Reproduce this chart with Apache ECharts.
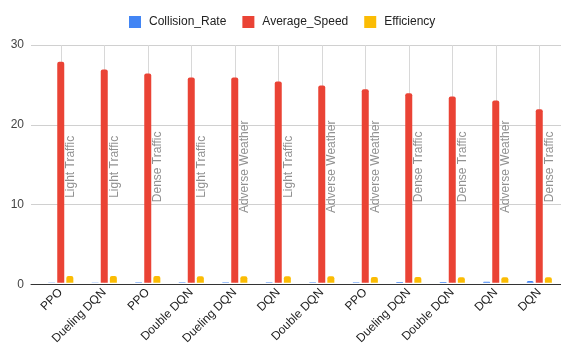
<!DOCTYPE html>
<html>
<head>
<meta charset="utf-8">
<script src="https://cdn.jsdelivr.net/npm/echarts@6/dist/echarts.min.js"></script>
<style>
  html, body { margin: 0; padding: 0; background: #fff; }
  #container { width: 561px; height: 347px; }
</style>
</head>
<body>
<div id="container"></div>
<script>
// data
var algorithms = ['PPO', 'Dueling DQN', 'PPO', 'Double DQN', 'Dueling DQN', 'DQN',
                  'Double DQN', 'PPO', 'Dueling DQN', 'Double DQN', 'DQN', 'DQN'];
var conditions = ['Light Traffic', 'Light Traffic', 'Dense Traffic', 'Light Traffic', 'Adverse Weather', 'Light Traffic',
                  'Adverse Weather', 'Adverse Weather', 'Dense Traffic', 'Dense Traffic', 'Adverse Weather', 'Dense Traffic'];
var collisionRate = [0.03, 0.03, 0.04, 0.04, 0.05, 0.05, 0.06, 0.06, 0.07, 0.08, 0.1, 0.22];
var averageSpeed = [27.9, 26.9, 26.4, 25.9, 25.9, 25.4, 24.9, 24.4, 23.9, 23.5, 23.0, 21.9];
var efficiency = [0.84, 0.83, 0.83, 0.82, 0.82, 0.81, 0.8, 0.7, 0.7, 0.68, 0.68, 0.68];
var yTicks = [0, 10, 20, 30];
var labelAnchor = 15; // value where the condition text is centred

var dom = document.getElementById('container');
var myChart = echarts.init(dom);
var font = '"Liberation Sans", Arial, sans-serif';

var option = {
    animation: false,
    textStyle: { fontFamily: font },
    legend: {
        top: 11,
        left: 124,
        itemWidth: 12,
        itemHeight: 12,
        itemGap: 16,
        icon: 'rect',
        textStyle: { color: '#222', fontSize: 12, fontFamily: font, padding: [0, 0, 0, 3] },
        data: ['Collision_Rate', 'Average_Speed', 'Efficiency']
    },
    grid: [
        { left: 31, right: 0, top: 45, height: 239.5 },
        { left: 39, right: 0, top: 45, height: 239.5 }
    ],
    xAxis: [
        {
            // background axis: only the baseline
            gridIndex: 0, type: 'value', min: 0, max: 1,
            axisLine: { show: true, onZero: false, lineStyle: { color: '#333', width: 1 } },
            axisTick: { show: false }, axisLabel: { show: false }, splitLine: { show: false }
        },
        {
            gridIndex: 1, type: 'category', data: algorithms,
            axisLine: { show: false },
            axisTick: { show: false },
            axisLabel: { rotate: 45, color: '#222', fontSize: 12, margin: 8, interval: 0, fontFamily: font },
            splitLine: { show: false }
        }
    ],
    yAxis: [
        {
            gridIndex: 0, type: 'value', min: yTicks[0], max: yTicks[yTicks.length - 1], interval: 10,
            axisLine: { show: false }, axisTick: { show: false },
            axisLabel: { color: '#444', fontSize: 12, margin: 7, fontFamily: font },
            splitLine: { lineStyle: { color: '#d0d0d0' } }
        },
        {
            gridIndex: 1, type: 'value', min: yTicks[0], max: yTicks[yTicks.length - 1], interval: 10,
            show: false, splitLine: { show: false }
        }
    ],
    series: [
        {
            name: 'Collision_Rate', type: 'bar', xAxisIndex: 1, yAxisIndex: 1, z: 3,
            data: collisionRate, barWidth: 7, barGap: '30%',
            itemStyle: { color: '#4285F4', borderRadius: [2, 2, 0, 0] }
        },
        {
            name: 'Average_Speed', type: 'bar', xAxisIndex: 1, yAxisIndex: 1, z: 3,
            data: averageSpeed, barWidth: 7, barGap: '30%',
            itemStyle: { color: '#EA4335', borderRadius: [2, 2, 0, 0] }
        },
        {
            name: 'Efficiency', type: 'bar', xAxisIndex: 1, yAxisIndex: 1, z: 3,
            data: efficiency, barWidth: 7, barGap: '30%',
            itemStyle: { color: '#FBBC04', borderRadius: [2, 2, 0, 0] }
        },
        {
            // condition names beside the speed bars, plus the vertical gridlines
            name: 'conditions', type: 'scatter', xAxisIndex: 1, yAxisIndex: 1, z: 1,
            symbolSize: 1, itemStyle: { color: 'rgba(0,0,0,0)' }, silent: true,
            data: conditions.map(function (c, i) { return { value: [i, labelAnchor], name: c }; }),
            label: {
                show: true, position: 'inside', rotate: 90, offset: [-3, 10],
                formatter: '{b}', color: '#757575', fontSize: 12, fontFamily: font
            },
            markLine: {
                silent: true, symbol: 'none', z: 1, label: { show: false },
                lineStyle: { color: '#d8d8d8', type: 'solid', width: 1 },
                data: algorithms.map(function (a, i) { return { xAxis: i }; })
            }
        }
    ]
};
myChart.setOption(option);
</script>
</body>
</html>
